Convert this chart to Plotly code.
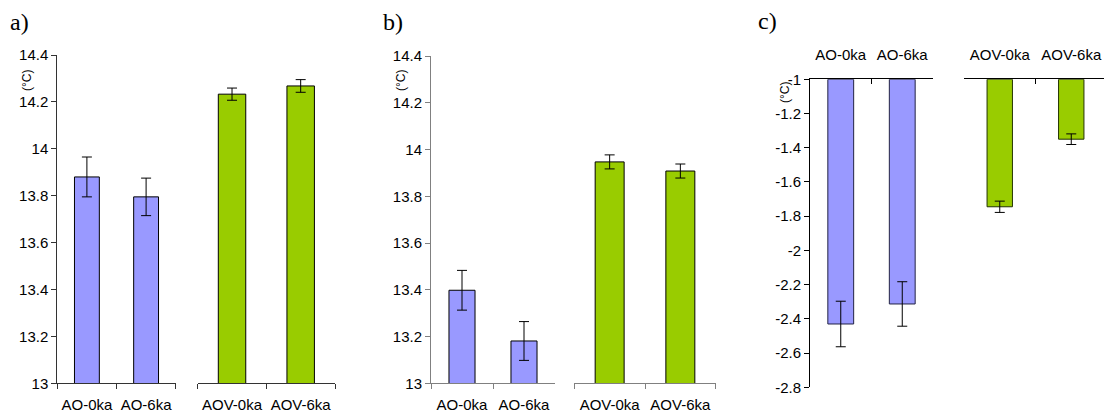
import plotly.graph_objects as go

W, H = 1104, 413

cats_ao = ["AO-0ka", "AO-6ka"]
cats_aov = ["AOV-0ka", "AOV-6ka"]

a_ao = [13.88, 13.795]
a_ao_err = [0.085, 0.08]
a_aov = [14.233, 14.268]
a_aov_err = [0.026, 0.027]

b_ao = [13.398, 13.181]
b_ao_err = [0.085, 0.083]
b_aov = [13.947, 13.908]
b_aov_err = [0.03, 0.03]

c_ao = [-2.43, -2.313]
c_ao_err = [0.133, 0.13]
c_aov = [-1.745, -1.35]
c_aov_err = [0.033, 0.031]
c_base = -1.0

a_yticks = [13, 13.2, 13.4, 13.6, 13.8, 14, 14.2, 14.4]
c_yticks = [-2.8, -2.6, -2.4, -2.2, -2, -1.8, -1.6, -1.4, -1.2, -1]

BLUE = "#9999FF"
GREEN = "#99CC00"
FONT = "Liberation Sans, Arial, sans-serif"


def px_x(p):
    return p / W


def px_y(p):
    return 1 - p / H


fig = go.Figure()


def add_bar(x, y, err, color, xa, ya, width, base=None, lc="#000000"):
    kw = {}
    if base is not None:
        kw["base"] = base
        y = [v - base for v in y]
    fig.add_trace(go.Bar(
        x=x, y=y, xaxis=xa, yaxis=ya, width=width,
        marker=dict(color=color, line=dict(color=lc, width=1)),
        error_y=dict(type="data", array=err, visible=True, color="#000000",
                     thickness=1, width=5),
        showlegend=False, **kw))


# panel a
add_bar(cats_ao, a_ao, a_ao_err, BLUE, "x", "y", 0.42)
add_bar(cats_aov, a_aov, a_aov_err, GREEN, "x2", "y", 0.40)
# panel b
add_bar(cats_ao, b_ao, b_ao_err, BLUE, "x3", "y3", 0.42)
add_bar(cats_aov, b_aov, b_aov_err, GREEN, "x4", "y3", 0.41)
# panel c
add_bar(cats_ao, c_ao, c_ao_err, BLUE, "x5", "y5", 0.42, base=c_base, lc="#222244")
add_bar(cats_aov, c_aov, c_aov_err, GREEN, "x6", "y5", 0.355, base=c_base, lc="#223300")

tickfont = dict(family=FONT, size=15, color="#000000")


def xax(dom, anchor, lc, side="bottom", ticks="outside", rng=(-0.5, 1.5), standoff=8):
    return dict(domain=[px_x(dom[0]), px_x(dom[1])], anchor=anchor, type="category",
                range=list(rng), showline=True, linecolor=lc, linewidth=1,
                ticks=ticks, tickson="boundaries", ticklen=5, tickcolor=lc,
                showgrid=False, zeroline=False, tickfont=tickfont, side=side,
                tickangle=0, ticklabelstandoff=standoff, automargin=False,
                fixedrange=True)


def yax(dom, anchor, rng, tv, lc):
    return dict(domain=[px_y(dom[1]), px_y(dom[0])], anchor=anchor, range=rng,
                tickvals=tv, ticktext=[f"{v:g}" for v in tv],
                showline=True, linecolor=lc, linewidth=1, ticks="outside",
                ticklen=5, tickcolor=lc, showgrid=False, zeroline=False,
                tickfont=tickfont, automargin=False, fixedrange=True)


fig.update_layout(
    width=W, height=H,
    margin=dict(l=0, r=0, t=0, b=0, pad=0, autoexpand=False),
    plot_bgcolor="white", paper_bgcolor="white", barmode="overlay",
    showlegend=False,
    xaxis=xax((57.3, 175.7), "y", "#333333"),
    xaxis2=xax((197.7, 335), "y", "#333333"),
    yaxis=yax((55, 383.3), "x", [13, 14.4], a_yticks, "#333333"),
    xaxis3=xax((431, 555), "y3", "#808080"),
    xaxis4=xax((574.3, 715.7), "y3", "#808080"),
    yaxis3=yax((56, 383.3), "x3", [13, 14.4], a_yticks, "#808080"),
    xaxis5=xax((810, 933), "y5", "#000000", side="top", ticks="inside", standoff=12),
    xaxis6=xax((964, 1104), "y5", "#000000", side="top", ticks="inside",
               rng=(-0.5, 1.458), standoff=12),
    yaxis5=yax((79.3, 387.3), "x5", [-2.8, -1], c_yticks, "#000000"),
)

annots = [
    ("a)", 19, 22), ("b)", 393, 22), ("c)", 767, 21),
]
for t, x, y in annots:
    fig.add_annotation(text=t, x=px_x(x), y=px_y(y), xref="paper", yref="paper",
                       showarrow=False, xanchor="center", yanchor="middle",
                       font=dict(family="Liberation Serif, Times New Roman, serif",
                                 size=24, color="#000000"))

for x, y in [(27, 81), (401, 81), (785, 93)]:
    fig.add_annotation(text="(°C)", x=px_x(x), y=px_y(y), xref="paper", yref="paper",
                       showarrow=False, textangle=-90, xanchor="center",
                       yanchor="middle", font=dict(family=FONT, size=12, color="#000000"))

fig.write_html("out.html")
